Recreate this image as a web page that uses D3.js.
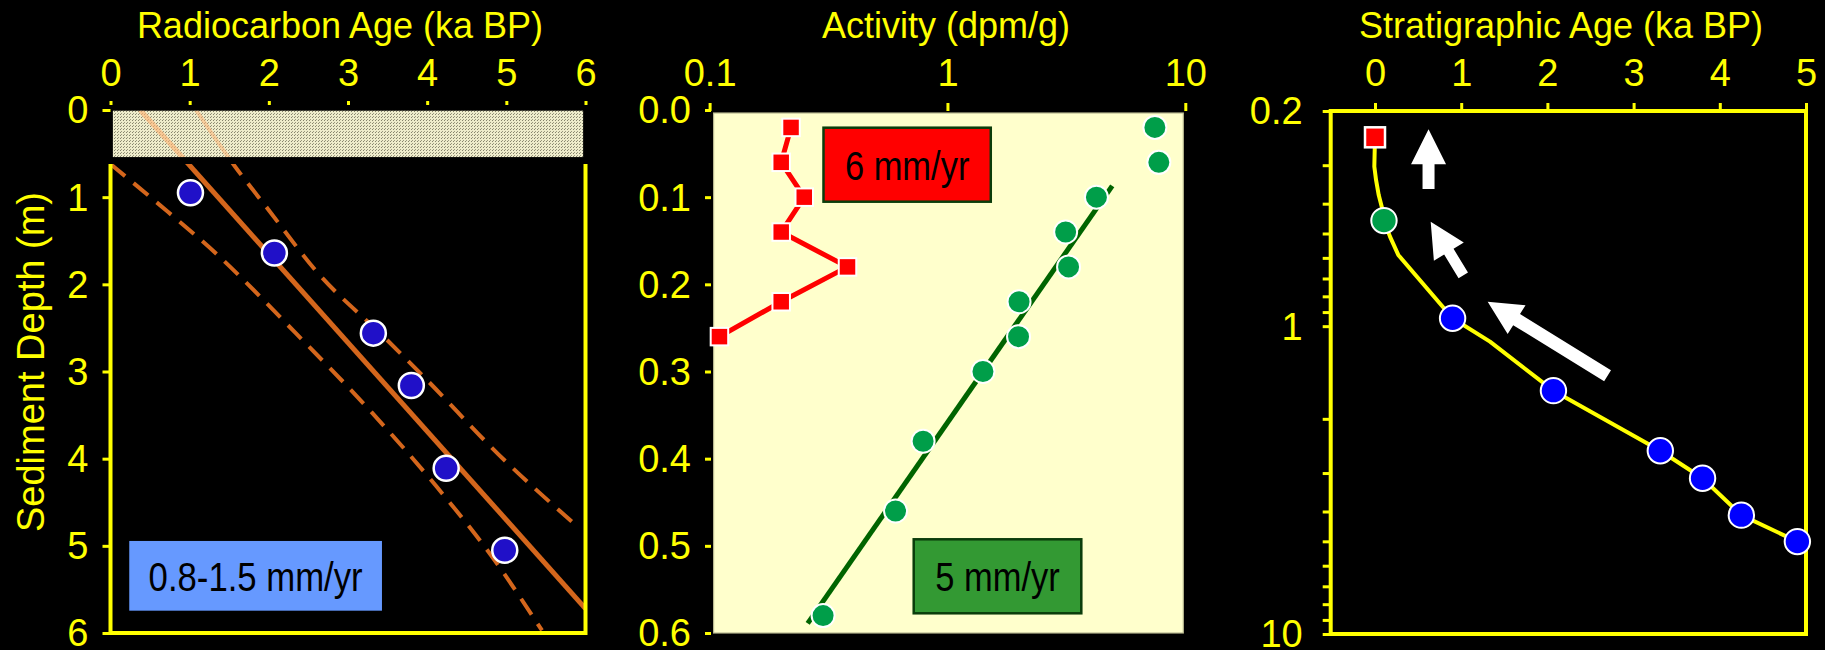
<!DOCTYPE html>
<html>
<head>
<meta charset="utf-8">
<script src="https://cdn.jsdelivr.net/npm/d3@7"></script>
<style>
  html, body { margin: 0; padding: 0; background: #000; }
  svg { display: block; }
  text { font-family: "Liberation Sans", Arial, sans-serif; }
</style>
</head>
<body>
<svg id="chart" width="1825" height="650"></svg>
<script>
// ---------- Radiocarbon age vs depth ----------
const radioAges   = [1.01, 2.07, 3.32, 3.80, 4.24, 4.98];
const radioDepths = [0.95, 1.64, 2.56, 3.16, 4.11, 5.05];
const fitAges     = [0.375, 6.0];     // central regression
const fitDepths   = [0.0, 5.72];
// confidence envelope on either side of the regression
const upperBandAges   = [1.08, 1.55, 2.0, 2.6, 3.45, 4.0, 4.9, 5.85];
const upperBandDepths = [0.0, 0.62, 1.15, 1.85, 2.60, 3.10, 3.95, 4.74];
const lowerBandAges   = [0.0, 0.57, 1.33, 2.34, 3.3, 4.1, 4.8, 5.45];
const lowerBandDepths = [0.62, 1.05, 1.644, 2.56, 3.47, 4.3, 5.1, 5.97];
const radioTicksX = [0, 1, 2, 3, 4, 5, 6];
const radioTicksY = [0, 1, 2, 3, 4, 5, 6];
const radioRateText = "0.8-1.5 mm/yr";
const radioRateBoxAges   = [0.237, 3.429];
const radioRateBoxDepths = [4.944, 5.744];
const surfaceLayerDepths = [0.0, 0.54];

// ---------- Activity vs depth ----------
const squareDepths   = [0.02, 0.06, 0.10, 0.14, 0.18, 0.22, 0.26];
const squareActivity = [0.22, 0.20, 0.25, 0.20, 0.38, 0.20, 0.11];
const circleDepths   = [0.02, 0.06, 0.10, 0.14, 0.18, 0.22, 0.26, 0.30, 0.38, 0.46, 0.58];
const circleActivity = [7.45, 7.74, 4.23, 3.14, 3.23, 2.00, 1.99, 1.41, 0.79, 0.605, 0.30];
const circleFitActivity = [4.93, 0.2585];
const circleFitDepths   = [0.087, 0.589];
const activityTicksX  = [0.1, 1, 10];
const activityLabelsX = ["0.1", "1", "10"];
const activityTicksY  = [0, 0.1, 0.2, 0.3, 0.4, 0.5, 0.6];
const activityLabelsY = ["0.0", "0.1", "0.2", "0.3", "0.4", "0.5", "0.6"];
const squareRateText = "6 mm/yr";
const squareRateBoxX = [0.3012, 1.521];
const squareRateBoxY = [0.0203, 0.1052];
const circleRateText = "5 mm/yr";
const circleRateBoxX = [0.7214, 3.654];
const circleRateBoxY = [0.4925, 0.5774];

// ---------- Stratigraphic age vs depth ----------
const stratSquareAges   = [0.0];
const stratSquareDepths = [0.2435];
const stratCircleAges   = [0.104];
const stratCircleDepths = [0.454];
const stratDotAges      = [0.90, 2.07, 3.31, 3.80, 4.25, 4.90];
const stratDotDepths    = [0.943, 1.62, 2.54, 3.12, 4.11, 5.01];
const stratCurveAges    = [0.0, -0.008, 0.012, 0.043, 0.078, 0.104, 0.174, 0.27, 0.90, 1.334, 2.07, 3.31, 3.80, 4.25, 4.90];
const stratCurveDepths  = [0.2435, 0.303, 0.335, 0.375, 0.409, 0.454, 0.512, 0.587, 0.943, 1.123, 1.62, 2.54, 3.12, 4.11, 5.01];
const stratTicksX      = [0, 1, 2, 3, 4, 5];
const stratMajorTicksY = [0.2, 1, 10];
const stratMajorLabels = ["0.2", "1", "10"];
const stratMinorTicksY = [0.3, 0.4, 0.5, 0.6, 0.7, 0.8, 0.9, 2, 3, 4, 5, 6, 7, 8, 9];
// direction arrows (tail -> tip), in age / depth units
const arrowTailAges   = [0.621, 1.024, 2.698];
const arrowTailDepths = [0.3585, 0.684, 1.45];
const arrowTipAges    = [0.621, 0.646, 1.307];
const arrowTipDepths  = [0.2292, 0.4578, 0.833];

// ---------- styling ----------
const YELLOW = "#FFFF00";
const ORANGE = "#D4661C";
const svg = d3.select("#chart");
svg.append("rect").attr("width", 1825).attr("height", 650).attr("fill", "#000");

const defs = svg.append("defs");
const pat = defs.append("pattern").attr("id", "speckle")
  .attr("width", 3).attr("height", 3).attr("patternUnits", "userSpaceOnUse");
pat.append("rect").attr("width", 3).attr("height", 3).attr("fill", "#EEECCB");
pat.append("rect").attr("x", 0).attr("y", 0).attr("width", 1).attr("height", 1).attr("fill", "#85836C");
pat.append("rect").attr("x", 1).attr("y", 2).attr("width", 1).attr("height", 1).attr("fill", "#9B997F");

function styleAxis(g, fontSize) {
  g.select(".domain").remove();
  g.selectAll(".tick line").attr("stroke", YELLOW).attr("stroke-width", 3);
  g.selectAll(".tick text").attr("fill", YELLOW).attr("font-size", fontSize)
    .attr("font-family", '"Liberation Sans", Arial, sans-serif');
}

function title(x, text) {
  svg.append("text").attr("x", x).attr("y", 38).attr("text-anchor", "middle")
    .attr("fill", YELLOW).attr("font-size", 36).text(text);
}

function rateLabel(x0, x1, y0, y1, fill, stroke, text, len) {
  const g = svg.append("g");
  g.append("rect").attr("x", x0).attr("y", y0).attr("width", x1 - x0).attr("height", y1 - y0)
    .attr("fill", fill).attr("stroke", stroke).attr("stroke-width", stroke === "none" ? 0 : 2.5);
  g.append("text").attr("x", (x0 + x1) / 2).attr("y", (y0 + y1) / 2 + 15)
    .attr("text-anchor", "middle").attr("fill", "#000").attr("font-size", 41)
    .attr("font-family", '"Roboto Condensed", "Liberation Sans Narrow", Roboto, sans-serif')
    .attr("textLength", len).attr("lengthAdjust", "spacingAndGlyphs").text(text);
}

// ================= Panel 1 =================
const x1 = d3.scaleLinear().domain([0, 6]).range([110.5, 585.5]);
const y1 = d3.scaleLinear().domain([0, 6]).range([110, 633]);
const frameTop1 = 164;

defs.append("clipPath").attr("id", "clip1").append("rect")
  .attr("x", x1(0)).attr("y", frameTop1).attr("width", x1(6) - x1(0)).attr("height", y1(6) - frameTop1);
defs.append("clipPath").attr("id", "clipLayer").append("rect")
  .attr("x", x1(0.03)).attr("y", y1(surfaceLayerDepths[0]) + 0.7)
  .attr("width", x1(5.97) - x1(0.03)).attr("height", y1(surfaceLayerDepths[1]) - y1(surfaceLayerDepths[0]) - 0.7);

const line1 = d3.line().x(d => x1(d[0])).y(d => y1(d[1]));
const band1 = d3.line().x(d => x1(d[0])).y(d => y1(d[1])).curve(d3.curveMonotoneX);
const fitPts   = d3.zip(fitAges, fitDepths);
const upperPts = d3.zip(upperBandAges, upperBandDepths);
const lowerPts = d3.zip(lowerBandAges, lowerBandDepths);

const lines1 = svg.append("g").attr("clip-path", "url(#clip1)");
lines1.append("path").attr("d", line1(fitPts)).attr("fill", "none").attr("stroke", ORANGE).attr("stroke-width", 5);
lines1.append("path").attr("d", band1(upperPts)).attr("fill", "none").attr("stroke", ORANGE)
  .attr("stroke-width", 4).attr("stroke-dasharray", "19,11");
lines1.append("path").attr("d", band1(lowerPts)).attr("fill", "none").attr("stroke", ORANGE)
  .attr("stroke-width", 4).attr("stroke-dasharray", "19,11");

// surface layer
svg.append("rect").attr("x", x1(0.03)).attr("y", y1(surfaceLayerDepths[0]) + 0.7)
  .attr("width", x1(5.97) - x1(0.03))
  .attr("height", y1(surfaceLayerDepths[1]) - y1(surfaceLayerDepths[0]) - 0.7)
  .attr("fill", "url(#speckle)");
const faint = svg.append("g").attr("clip-path", "url(#clipLayer)");
faint.append("path").attr("d", line1(fitPts)).attr("fill", "none").attr("stroke", "#FFB070")
  .attr("stroke-opacity", 0.6).attr("stroke-width", 5);
faint.append("path").attr("d", band1(upperPts)).attr("fill", "none").attr("stroke", "#FFB070")
  .attr("stroke-opacity", 0.5).attr("stroke-width", 4);

// frame
svg.append("path")
  .attr("d", `M${x1(0)},${frameTop1}V${y1(6)}H${x1(6)}V${frameTop1}`)
  .attr("fill", "none").attr("stroke", YELLOW).attr("stroke-width", 4);

svg.append("g").attr("transform", "translate(0,105)")
  .call(d3.axisTop(x1).tickValues(radioTicksX).tickSize(4).tickPadding(15).tickFormat(d3.format("d")))
  .call(g => styleAxis(g, 38));
svg.append("g").attr("transform", `translate(${x1(0)},0)`)
  .call(d3.axisLeft(y1).tickValues(radioTicksY).tickSize(8).tickPadding(14).tickFormat(d3.format("d")))
  .call(g => { styleAxis(g, 38); g.selectAll(".tick text").attr("dy", "0.34em"); });

svg.append("g").selectAll("circle").data(d3.zip(radioAges, radioDepths)).join("circle")
  .attr("cx", d => x1(d[0])).attr("cy", d => y1(d[1])).attr("r", 12.5)
  .attr("fill", "#2010C8").attr("stroke", "#fff").attr("stroke-width", 2.5);

rateLabel(x1(radioRateBoxAges[0]), x1(radioRateBoxAges[1]), y1(radioRateBoxDepths[0]), y1(radioRateBoxDepths[1]),
  "#6699FF", "none", radioRateText, 214);

title(340, "Radiocarbon Age (ka BP)");
svg.append("text").attr("transform", "translate(44,362) rotate(-90)").attr("text-anchor", "middle")
  .attr("fill", YELLOW).attr("font-size", 38).text("Sediment Depth (m)");

// ================= Panel 2 =================
const x2 = d3.scaleLog().domain([0.1, 10]).range([709.6, 1185.3]);
const y2 = d3.scaleLinear().domain([0, 0.6]).range([110, 633]);

svg.append("rect").attr("x", x2(0.1) + 4).attr("y", y2(0) + 3)
  .attr("width", x2(10) - x2(0.1) - 6).attr("height", y2(0.6) - y2(0) - 3)
  .attr("fill", "#FFFFCC").attr("stroke", "#B8B890").attr("stroke-width", 1.2);

svg.append("g").attr("transform", "translate(0,111)")
  .call(d3.axisTop(x2).tickValues(activityTicksX).tickSize(8).tickPadding(17)
    .tickFormat((d, i) => activityLabelsX[i]))
  .call(g => styleAxis(g, 38));
svg.append("g").attr("transform", "translate(711,0)")
  .call(d3.axisLeft(y2).tickValues(activityTicksY).tickSize(6).tickPadding(14)
    .tickFormat((d, i) => activityLabelsY[i]))
  .call(g => { styleAxis(g, 38); g.selectAll(".tick text").attr("dy", "0.34em"); });

const line2 = d3.line().x(d => x2(d[0])).y(d => y2(d[1]));
svg.append("path").attr("d", line2(d3.zip(squareActivity, squareDepths)))
  .attr("fill", "none").attr("stroke", "#FF0000").attr("stroke-width", 5).attr("stroke-linejoin", "round");
svg.append("path").attr("d", line2(d3.zip(circleFitActivity, circleFitDepths)))
  .attr("fill", "none").attr("stroke", "#006400").attr("stroke-width", 5);

svg.append("g").selectAll("rect").data(d3.zip(squareActivity, squareDepths)).join("rect")
  .attr("x", d => x2(d[0]) - 8.75).attr("y", d => y2(d[1]) - 8.75)
  .attr("width", 17.5).attr("height", 17.5)
  .attr("fill", "#FF0000").attr("stroke", "#fff").attr("stroke-width", 2);
svg.append("g").selectAll("circle").data(d3.zip(circleActivity, circleDepths)).join("circle")
  .attr("cx", d => x2(d[0])).attr("cy", d => y2(d[1])).attr("r", 11.5)
  .attr("fill", "#009E49").attr("stroke", "#fff").attr("stroke-width", 2);

rateLabel(x2(squareRateBoxX[0]), x2(squareRateBoxX[1]), y2(squareRateBoxY[0]), y2(squareRateBoxY[1]),
  "#FF0000", "#0B3D0B", squareRateText, 124.5);
rateLabel(x2(circleRateBoxX[0]), x2(circleRateBoxX[1]), y2(circleRateBoxY[0]), y2(circleRateBoxY[1]),
  "#339933", "#0B3D0B", circleRateText, 124.5);

title(946, "Activity (dpm/g)");

// ================= Panel 3 =================
const x3 = d3.scaleLinear().domain([-0.514, 5]).range([1330.7, 1806]);
const y3 = d3.scaleLog().domain([0.2, 10]).range([111, 634]);

svg.append("g").attr("transform", `translate(0,${y3(0.2)})`)
  .call(d3.axisTop(x3).tickValues(stratTicksX).tickSize(8).tickPadding(17).tickFormat(d3.format("d")))
  .call(g => styleAxis(g, 38));
svg.append("g").attr("transform", `translate(${x3(-0.514)},0)`)
  .call(d3.axisLeft(y3).tickValues(stratMajorTicksY.concat(stratMinorTicksY)).tickSize(8).tickPadding(20)
    .tickFormat(d => { const i = stratMajorTicksY.indexOf(d); return i >= 0 ? stratMajorLabels[i] : ""; }))
  .call(g => { styleAxis(g, 38); g.selectAll(".tick text").attr("dy", "0.34em"); });

svg.append("rect").attr("x", x3(-0.514)).attr("y", y3(0.2))
  .attr("width", x3(5) - x3(-0.514)).attr("height", y3(10) - y3(0.2))
  .attr("fill", "none").attr("stroke", YELLOW).attr("stroke-width", 4);

const line3 = d3.line().x(d => x3(d[0])).y(d => y3(d[1]));
svg.append("path").attr("d", line3(d3.zip(stratCurveAges, stratCurveDepths)))
  .attr("fill", "none").attr("stroke", YELLOW).attr("stroke-width", 4).attr("stroke-linejoin", "round");

// arrows
function arrowPath(tx, ty, hx, hy, shaftW, headW, headL) {
  const dx = hx - tx, dy = hy - ty, L = Math.hypot(dx, dy);
  const ux = dx / L, uy = dy / L, nx = -uy, ny = ux;
  const bx = hx - ux * headL, by = hy - uy * headL;
  const p = [
    [tx + nx * shaftW / 2, ty + ny * shaftW / 2],
    [bx + nx * shaftW / 2, by + ny * shaftW / 2],
    [bx + nx * headW / 2, by + ny * headW / 2],
    [hx, hy],
    [bx - nx * headW / 2, by - ny * headW / 2],
    [bx - nx * shaftW / 2, by - ny * shaftW / 2],
    [tx - nx * shaftW / 2, ty - ny * shaftW / 2]
  ];
  return "M" + p.map(q => q.join(",")).join("L") + "Z";
}
const shaftWidths = [12, 11, 13], headWidths = [35, 35, 34], headLengths = [35, 35, 34];
svg.append("g").selectAll("path").data(d3.range(arrowTipAges.length)).join("path")
  .attr("d", i => arrowPath(x3(arrowTailAges[i]), y3(arrowTailDepths[i]),
    x3(arrowTipAges[i]), y3(arrowTipDepths[i]), shaftWidths[i], headWidths[i], headLengths[i]))
  .attr("fill", "#fff");

svg.append("g").selectAll("rect").data(d3.zip(stratSquareAges, stratSquareDepths)).join("rect")
  .attr("x", d => x3(d[0]) - 10).attr("y", d => y3(d[1]) - 10).attr("width", 20).attr("height", 20)
  .attr("fill", "#FF0000").attr("stroke", "#fff").attr("stroke-width", 2.5);
svg.append("g").selectAll("circle").data(d3.zip(stratCircleAges, stratCircleDepths)).join("circle")
  .attr("cx", d => x3(d[0])).attr("cy", d => y3(d[1])).attr("r", 12.7)
  .attr("fill", "#009E49").attr("stroke", "#fff").attr("stroke-width", 2);
svg.append("g").selectAll("circle").data(d3.zip(stratDotAges, stratDotDepths)).join("circle")
  .attr("cx", d => x3(d[0])).attr("cy", d => y3(d[1])).attr("r", 12.7)
  .attr("fill", "#0000FF").attr("stroke", "#fff").attr("stroke-width", 2);

title(1561, "Stratigraphic Age (ka BP)");
</script>
</body>
</html>
